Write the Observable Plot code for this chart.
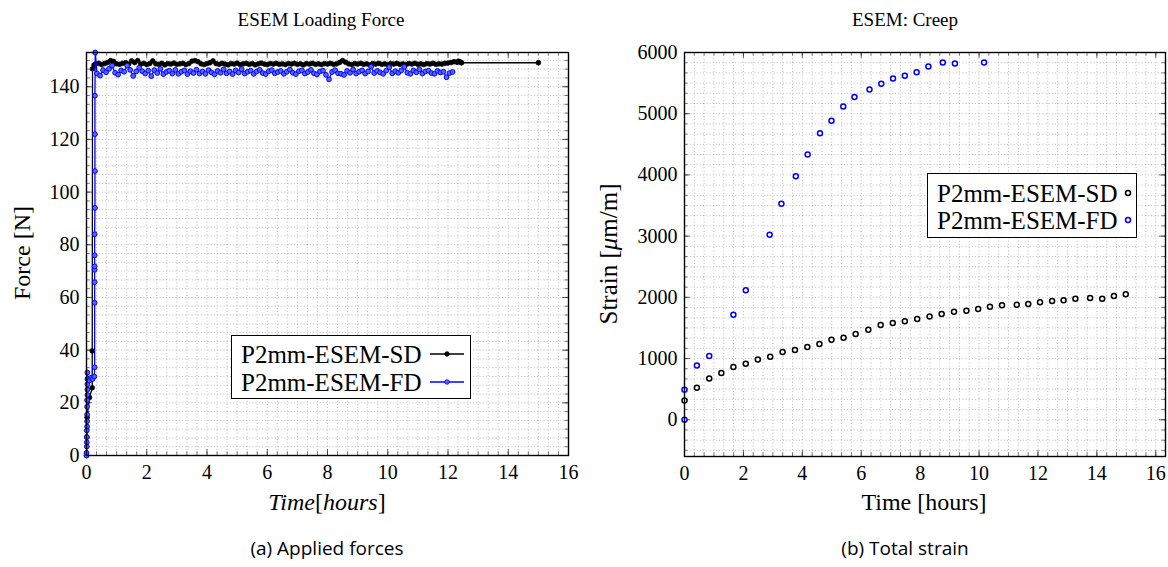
<!DOCTYPE html>
<html>
<head>
<meta charset="utf-8">
<script src="https://cdn.jsdelivr.net/npm/d3@7"></script>
<script src="https://cdn.jsdelivr.net/npm/@observablehq/plot@0.6"></script>
<style>
  body { margin: 0; background: #fff; }
  #root { position: relative; width: 1168px; height: 567px; overflow: hidden; font-family: "Liberation Serif", serif; color: #000; }
  .abs { position: absolute; white-space: nowrap; line-height: 1; }
  .panel { position: absolute; top: 0; }
  .panel svg { overflow: visible; }
  .title { font-size: 19px; transform: translate(-50%, -50%); }
  .xlab { font-size: 24px; transform: translate(-50%, -50%); }
  .ylab { font-size: 24px; transform: translate(-50%, -50%) rotate(-90deg); }
  .cap { font-family: "Open Sans", sans-serif; font-size: 19px; transform: translate(-50%, -50%); }
  .legend { position: absolute; border: 1.3px solid #000; background: #fff; box-sizing: border-box; }
  .legrow { position: absolute; left: 9px; font-size: 25px; white-space: nowrap; line-height: 1; transform: translateY(-50%); }
  .legsample { position: absolute; }
</style>
</head>
<body>
<div id="root"></div>
<script>
// ---------------- Data: (a) Applied forces, [time (h), force (N)] ----------------
const sdForceSeries = [
  [0, 0], [0.01, 7], [0.02, 14.5], [0.1, 22], [0.19, 25.7], [0.19, 39.7], [0.2, 146.8], [0.25, 148.3],
  [0.3, 148.6], [0.4, 148.9], [0.5, 148.4], [0.6, 148.8], [0.7, 149.2], [0.8, 149.9], [0.9, 149.6], [1.0, 148.7],
  [1.1, 148.5], [1.2, 148.9], [1.3, 149.1], [1.4, 148.6], [1.5, 149.8], [1.6, 149.2], [1.7, 149.9], [1.8, 148.6],
  [1.9, 148.9], [2.0, 148.4], [2.1, 148.8], [2.2, 149.8], [2.3, 148.7], [2.4, 148.5], [2.5, 148.9], [2.6, 148.3],
  [2.7, 148.8], [2.8, 148.6], [2.9, 149.0], [3.0, 148.5], [3.1, 148.7], [3.2, 148.9], [3.3, 148.4], [3.4, 148.8],
  [3.5, 149.7], [3.6, 149.9], [3.7, 149.5], [3.8, 148.7], [3.9, 148.4], [4.0, 148.8], [4.1, 149.1], [4.2, 149.8],
  [4.3, 148.8], [4.4, 148.5], [4.5, 148.9], [4.6, 148.6], [4.7, 148.3], [4.8, 148.8], [4.9, 148.6], [5.0, 149.0],
  [5.1, 148.4], [5.2, 148.7], [5.3, 148.9], [5.4, 148.5], [5.5, 148.8], [5.6, 148.3], [5.7, 148.7], [5.8, 149.0],
  [5.9, 148.6], [6.0, 148.4], [6.1, 148.8], [6.2, 148.6], [6.3, 148.9], [6.4, 148.5], [6.5, 148.7], [6.6, 148.4],
  [6.7, 148.8], [6.8, 148.6], [6.9, 148.9], [7.0, 148.5], [7.1, 148.7], [7.2, 148.3], [7.3, 148.8], [7.4, 148.6],
  [7.5, 148.9], [7.6, 148.5], [7.7, 148.7], [7.8, 148.4], [7.9, 148.8], [8.0, 148.6], [8.1, 148.9], [8.2, 148.5],
  [8.3, 148.7], [8.4, 149.2], [8.5, 149.9], [8.6, 149.3], [8.7, 148.7], [8.8, 148.4], [8.9, 148.8], [9.0, 148.6],
  [9.1, 148.9], [9.2, 148.5], [9.3, 148.7], [9.4, 148.3], [9.5, 148.8], [9.6, 148.6], [9.7, 148.9], [9.8, 148.5],
  [9.9, 148.7], [10.0, 148.4], [10.1, 148.8], [10.2, 148.6], [10.3, 148.9], [10.4, 148.5], [10.5, 148.7], [10.6, 148.4],
  [10.7, 148.8], [10.8, 148.6], [10.9, 148.9], [11.0, 148.5], [11.1, 148.7], [11.2, 148.4], [11.3, 148.8], [11.4, 148.6],
  [11.5, 148.9], [11.6, 148.5], [11.7, 148.7], [11.8, 148.6], [11.9, 148.9], [12.0, 149.0], [12.1, 149.2], [12.2, 149.5],
  [12.3, 149.3], [12.35, 149.7], [12.4, 149.4], [12.45, 149.1], [15.0, 149.1]
];
const fdForceSeries = [
  [0, 0], [0, 1], [0.01, 3.4], [0.01, 5], [0.01, 7], [0.01, 9.5], [0.02, 11], [0.02, 13], [0.02, 15.5], [0.02, 18.5],
  [0.02, 21], [0.03, 23], [0.03, 25], [0.03, 27], [0.03, 29], [0.03, 31.5], [0.05, 29], [0.1, 28.5], [0.15, 29.5],
  [0.2, 29], [0.26, 30], [0.27, 33.5], [0.27, 58], [0.27, 65.8], [0.27, 70.5], [0.27, 71.8], [0.27, 76], [0.27, 84],
  [0.28, 94], [0.28, 108], [0.28, 122], [0.28, 136.6], [0.29, 153],
  [0.35, 145.0], [0.45, 144.2], [0.55, 146.3], [0.65, 145.5], [0.75, 146.8], [0.85, 148.0], [0.95, 145.3], [1.05, 144.6],
  [1.15, 146.2], [1.25, 145.7], [1.35, 148.0], [1.45, 146.4], [1.55, 144.1], [1.65, 145.8], [1.75, 147.2], [1.85, 145.9],
  [1.95, 145.0], [2.05, 146.1], [2.15, 144.0], [2.25, 146.3], [2.35, 145.2], [2.45, 146.8], [2.55, 144.8], [2.65, 145.6],
  [2.75, 146.1], [2.85, 145.0], [2.95, 146.4], [3.05, 144.9], [3.15, 145.7], [3.25, 146.2], [3.35, 144.8], [3.45, 145.9],
  [3.55, 145.2], [3.65, 146.5], [3.75, 145.0], [3.85, 145.8], [3.95, 144.9], [4.05, 146.3], [4.15, 145.4], [4.25, 144.7],
  [4.35, 146.0], [4.45, 145.3], [4.55, 146.6], [4.65, 145.1], [4.75, 145.8], [4.85, 144.8], [4.95, 146.2], [5.05, 145.4],
  [5.15, 146.7], [5.25, 145.0], [5.35, 145.7], [5.45, 146.1], [5.55, 144.9], [5.65, 145.8], [5.75, 146.4], [5.85, 145.2],
  [5.95, 144.8], [6.05, 145.9], [6.15, 146.3], [6.25, 145.1], [6.35, 145.6], [6.45, 146.0], [6.55, 144.9], [6.65, 145.7],
  [6.75, 146.5], [6.85, 145.3], [6.95, 144.8], [7.05, 145.9], [7.15, 146.2], [7.25, 145.0], [7.35, 145.6], [7.45, 146.4],
  [7.55, 145.1], [7.65, 144.7], [7.75, 145.8], [7.85, 146.1], [7.95, 144.5], [8.05, 142.8], [8.15, 145.6], [8.25, 146.3],
  [8.35, 145.1], [8.45, 144.9], [8.55, 144.5], [8.65, 146.0], [8.75, 145.3], [8.85, 146.5], [8.95, 145.0], [9.05, 145.7],
  [9.15, 146.2], [9.25, 145.0], [9.35, 145.8], [9.45, 147.6], [9.55, 145.2], [9.65, 146.0], [9.75, 145.4], [9.85, 144.9],
  [9.95, 146.1], [10.05, 147.4], [10.15, 145.1], [10.25, 145.9], [10.35, 145.3], [10.45, 146.2], [10.55, 147.5], [10.65, 145.3],
  [10.75, 144.9], [10.85, 146.2], [10.95, 145.5], [11.05, 146.6], [11.15, 145.0], [11.25, 145.8], [11.35, 146.1], [11.45, 145.2],
  [11.55, 144.9], [11.65, 146.0], [11.75, 145.4], [11.85, 145.7], [11.95, 143.6], [12.05, 145.2], [12.15, 145.6]
];

// ---------------- Data: (b) Total strain ----------------
const sdStrainTime = [0, 0.42, 0.84, 1.25, 1.66, 2.08, 2.49, 2.91, 3.33, 3.75, 4.17, 4.58, 4.99, 5.40, 5.81, 6.24,
  6.66, 7.07, 7.48, 7.90, 8.32, 8.73, 9.15, 9.57, 9.97, 10.37, 10.78, 11.28, 11.67, 12.07, 12.48, 12.87, 13.27,
  13.77, 14.18, 14.58, 14.98];
const sdStrain = [316, 523, 675, 763, 861, 915, 986, 1030, 1106, 1139, 1188, 1237, 1308, 1341, 1401, 1471,
  1548, 1581, 1610, 1646, 1689, 1727, 1765, 1782, 1809, 1847, 1869, 1880, 1891, 1918, 1940, 1951, 1978,
  1989, 1978, 2022, 2049];
const fdStrainTime = [0, 0, 0.42, 0.84, 1.66, 2.08, 2.89, 3.29, 3.78, 4.18, 4.60, 4.99, 5.39, 5.77, 6.28, 6.68,
  7.08, 7.48, 7.88, 8.28, 8.77, 9.18, 10.17];
const fdStrain = [0, 490, 888, 1041, 1716, 2114, 3024, 3528, 3978, 4332, 4681, 4883, 5117, 5275, 5395, 5488,
  5575, 5619, 5677, 5770, 5836, 5820, 5836];

// ---------------- Axis ticks / labels ----------------
const forceXTicks = [0, 2, 4, 6, 8, 10, 12, 14, 16];
const forceYTicks = [0, 20, 40, 60, 80, 100, 120, 140];
const strainXTicks = [0, 2, 4, 6, 8, 10, 12, 14, 16];
const strainYTicks = [0, 1000, 2000, 3000, 4000, 5000, 6000];
const seriesNames = ["P2mm-ESEM-SD", "P2mm-ESEM-FD"];
const seriesColors = ["#000000", "#0000ff"];
const fdMarkFill = "#5566ff";
const serif = "Liberation Serif";

const sdForceData = sdForceSeries.map(([t, v]) => ({t, v}));
const fdForceData = fdForceSeries.map(([t, v]) => ({t, v}));
const strainData = [
  ...sdStrainTime.map((t, i) => ({t, v: sdStrain[i], s: seriesNames[0]})),
  ...fdStrainTime.map((t, i) => ({t, v: fdStrain[i], s: seriesNames[1]}))
];

function minorTicks(major, domain, n) {
  const step = (major[1] - major[0]) / (n + 1);
  const out = [];
  for (let k = Math.floor(domain[0] / step) - 1; k * step <= domain[1] + 1e-9; k++) {
    const v = +(k * step).toFixed(6);
    if (v < domain[0] - 1e-9 || v > domain[1] + 1e-9) continue;
    out.push(v);
  }
  return out;
}

function panel({width, height, margins, xDomain, yDomain, xTicks, yTicks, marks}) {
  const [mt, mr, mb, ml] = margins;
  const iw = width - ml - mr, ih = height - mt - mb;
  const xMinor = minorTicks(xTicks, xDomain, 5);
  const yMinor = minorTicks(yTicks, yDomain, 5);
  const gridStyle = {stroke: "#9a9a9a", strokeWidth: 0.7, strokeDasharray: "0.9,2.3"};
  return Plot.plot({
    width, height,
    marginTop: mt, marginRight: mr, marginBottom: mb, marginLeft: ml,
    x: {domain: xDomain, axis: null},
    y: {domain: yDomain, axis: null},
    style: {fontFamily: serif, fontSize: "20px", color: "#000", overflow: "visible"},
    marks: [
      Plot.ruleX(xMinor, {x: d => d, ...gridStyle}),
      Plot.ruleY(yMinor, {y: d => d, ...gridStyle}),
      // inner tick marks on all four sides
      Plot.tickX(xMinor, {x: d => d, insetTop: ih - 3.5, stroke: "#222", strokeWidth: 0.6}),
      Plot.tickX(xMinor, {x: d => d, insetBottom: ih - 3.5, stroke: "#222", strokeWidth: 0.6}),
      Plot.tickX(xTicks, {x: d => d, insetTop: ih - 6, stroke: "#222", strokeWidth: 0.7}),
      Plot.tickX(xTicks, {x: d => d, insetBottom: ih - 6, stroke: "#222", strokeWidth: 0.7}),
      Plot.tickY(yMinor, {y: d => d, insetRight: iw - 3.5, stroke: "#222", strokeWidth: 0.6}),
      Plot.tickY(yMinor, {y: d => d, insetLeft: iw - 3.5, stroke: "#222", strokeWidth: 0.6}),
      Plot.tickY(yTicks, {y: d => d, insetRight: iw - 6, stroke: "#222", strokeWidth: 0.7}),
      Plot.tickY(yTicks, {y: d => d, insetLeft: iw - 6, stroke: "#222", strokeWidth: 0.7}),
      // tick labels (serif, like the LaTeX original)
      Plot.text(xTicks, {x: d => d, frameAnchor: "bottom", dy: 9, lineAnchor: "top", text: d => String(d),
        fill: "#000", fontFamily: serif, fontSize: 20}),
      Plot.text(yTicks, {y: d => d, frameAnchor: "left", dx: -7, textAnchor: "end", text: d => String(d),
        fill: "#000", fontFamily: serif, fontSize: 20}),
      ...marks,
      Plot.frame({stroke: "#000", strokeWidth: 1.4})
    ]
  });
}

const root = document.getElementById("root");
function addDiv(cls, html, left, top, extra) {
  const d = document.createElement("div");
  d.className = "abs " + cls;
  d.innerHTML = html;
  d.style.left = left + "px";
  d.style.top = top + "px";
  if (extra) Object.assign(d.style, extra);
  root.appendChild(d);
  return d;
}

// ---- Panel (a) ----
const colorOf = s => seriesColors[seriesNames.indexOf(s)];
const pA = panel({
  width: 584, height: 500, margins: [52, 16, 45, 86],
  xDomain: [0, 16], yDomain: [0, 153],
  xTicks: forceXTicks, yTicks: forceYTicks,
  marks: [
    Plot.line(sdForceData, {x: "t", y: "v", stroke: seriesColors[0], strokeWidth: 1.3}),
    Plot.dot(sdForceData, {x: "t", y: "v", r: 2.4, fill: seriesColors[0], stroke: seriesColors[0], strokeWidth: 0.7}),
    Plot.line(fdForceData, {x: "t", y: "v", stroke: seriesColors[1], strokeWidth: 1.3}),
    Plot.dot(fdForceData, {x: "t", y: "v", r: 2.4, fill: fdMarkFill, stroke: seriesColors[1], strokeWidth: 1})
  ]
});
const wa = document.createElement("div");
wa.className = "panel"; wa.style.left = "0px";
wa.appendChild(pA);
root.appendChild(wa);

// ---- Panel (b) ----
const pB = panel({
  width: 584, height: 501, margins: [52, 3, 45, 100],
  xDomain: [0, 16.33], yDomain: [-600, 6000],
  xTicks: strainXTicks, yTicks: strainYTicks,
  marks: [
    Plot.dot(strainData, {x: "t", y: "v", r: 2.5, fill: "#fff", stroke: d => colorOf(d.s), strokeWidth: 1.5})
  ]
});
const wb = document.createElement("div");
wb.className = "panel"; wb.style.left = "584px";
wb.appendChild(pB);
root.appendChild(wb);

// ---- Titles, axis labels, captions ----
addDiv("title", "ESEM Loading Force", 321, 19);
addDiv("title", "ESEM: Creep", 905, 19);
addDiv("ylab", "Force [N]", 22, 253);
addDiv("xlab", "<i>Time</i>[<i>hours</i>]", 327, 502);
addDiv("ylab", "Strain [<i>μ</i>m/m]", 608, 254, {fontSize: "25px"});
addDiv("xlab", "Time [hours]", 924, 502);
addDiv("cap", "(a) Applied forces", 327, 548);
addDiv("cap", "(b) Total strain", 905, 548);

// ---- Legends ----
function legend(left, top, w, h, rows, lines) {
  const box = document.createElement("div");
  box.className = "legend";
  Object.assign(box.style, {left: left + "px", top: top + "px", width: w + "px", height: h + "px"});
  rows.forEach((r, i) => {
    const t = document.createElement("div");
    t.className = "legrow";
    t.style.top = r.y + "px";
    t.textContent = seriesNames[i];
    box.appendChild(t);
    const s = document.createElementNS("http://www.w3.org/2000/svg", "svg");
    s.setAttribute("class", "legsample");
    s.setAttribute("width", 40); s.setAttribute("height", 12);
    s.style.left = (r.sx - 20) + "px"; s.style.top = (r.y - 6) + "px";
    const c = seriesColors[i];
    if (lines) {
      s.innerHTML = `<line x1="3" x2="37" y1="6" y2="6" stroke="${c}" stroke-width="1.3"/>` +
        `<circle cx="20" cy="6" r="2.3" fill="${i ? fdMarkFill : c}" stroke="${c}" stroke-width="0.8"/>`;
    } else {
      s.innerHTML = `<circle cx="20" cy="6" r="2.5" fill="#fff" stroke="${c}" stroke-width="1.5"/>`;
    }
    box.appendChild(s);
  });
  root.appendChild(box);
}
legend(231, 335, 240, 64, [{y: 17.5, sx: 215}, {y: 45.5, sx: 215}], true);
legend(927, 173, 210, 65, [{y: 18.5, sx: 200}, {y: 46, sx: 200}], false);
</script>
</body>
</html>
